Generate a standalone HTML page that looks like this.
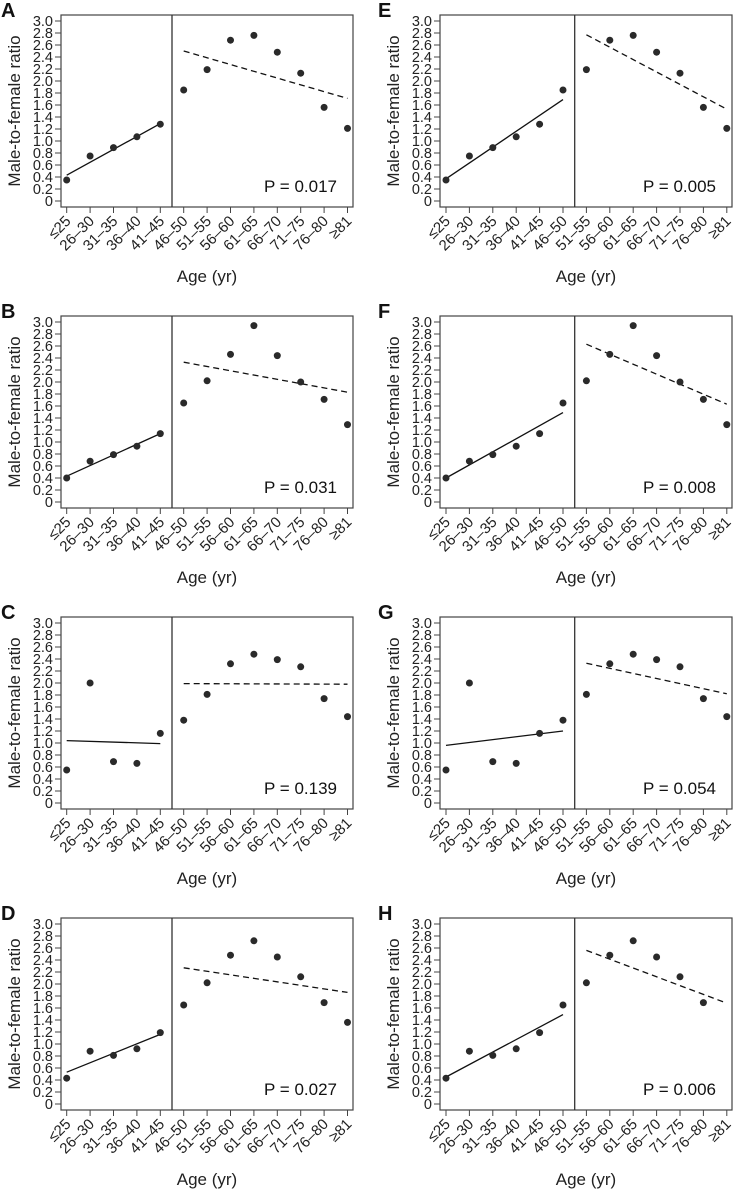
<!DOCTYPE html>
<html><head><meta charset="utf-8"><style>
html,body{margin:0;padding:0;background:#fff;}
svg{display:block;font-family:"Liberation Sans",Arial,sans-serif;}
</style></head><body>
<svg id="fig" width="735" height="1189" viewBox="0 0 735 1189"></svg>
<script>
const categories = ["≤25","26–30","31–35","36–40","41–45","46–50","51–55","56–60","61–65","66–70","71–75","76–80","≥81"];
const yTicks = [0,0.2,0.4,0.6,0.8,1.0,1.2,1.4,1.6,1.8,2.0,2.2,2.4,2.6,2.8,3.0];
const yTickLabels = ["0","0.2","0.4","0.6","0.8","1.0","1.2","1.4","1.6","1.8","2.0","2.2","2.4","2.6","2.8","3.0"];
const panelLetters = ["A","B","C","D","E","F","G","H"];
const pValues = ["P = 0.017","P = 0.031","P = 0.139","P = 0.027","P = 0.005","P = 0.008","P = 0.054","P = 0.006"];
const seriesA = [0.35,0.75,0.89,1.07,1.28,1.85,2.19,2.68,2.76,2.48,2.13,1.56,1.21];
const seriesB = [0.40,0.68,0.79,0.93,1.14,1.65,2.02,2.46,2.94,2.44,2.00,1.71,1.29];
const seriesC = [0.55,2.00,0.69,0.66,1.16,1.38,1.81,2.32,2.48,2.39,2.27,1.74,1.44];
const seriesD = [0.43,0.88,0.81,0.92,1.19,1.65,2.02,2.48,2.72,2.45,2.12,1.69,1.36];
const seriesH = [0.43,0.88,0.81,0.92,1.19,1.65,2.02,2.48,2.72,2.45,2.12,1.69,null];
const splitLeft = [5,5,5,5,6,6,6,6];
const fitA = [0.43,1.29,2.50,1.71];
const fitB = [0.43,1.14,2.33,1.83];
const fitC = [1.04,0.99,1.99,1.98];
const fitD = [0.53,1.16,2.27,1.86];
const fitE = [0.37,1.69,2.77,1.53];
const fitF = [0.40,1.49,2.63,1.63];
const fitG = [0.96,1.20,2.33,1.82];
const fitH = [0.45,1.49,2.56,1.68];

const panelSeries = [seriesA,seriesB,seriesC,seriesD,seriesA,seriesB,seriesC,seriesH];
const panelFits = [fitA,fitB,fitC,fitD,fitE,fitF,fitG,fitH];

const NS="http://www.w3.org/2000/svg";
const svg=document.getElementById('fig');
function mk(tag,attrs,parent){const e=document.createElementNS(NS,tag);for(const k in attrs)e.setAttribute(k,attrs[k]);(parent||svg).appendChild(e);return e;}

const rowOff=[0,301,602,903];
for(let p=0;p<8;p++){
  const col=p<4?0:1, row=p%4;
  const oy=rowOff[row];
  const bl=col?440:61, br=col?732:353;
  const cx0=col?446:66.7, step=23.4;
  const xs=i=>cx0+i*step;
  const ys=v=>oy+201-v*60;
  const g=mk('g',{});
  
  
  const lt=mk('text',{x:col?378:1,y:oy+17,'font-size':20,'font-weight':'bold',fill:'#111'},g);
  lt.textContent=panelLetters[p];
  
  
  const box=mk('rect',{x:bl,y:oy+15,width:br-bl,height:192,fill:'none',stroke:'#444','stroke-width':1.2},g);
  
  
  const n=splitLeft[p];
  const dx=(xs(n-1)+xs(n))/2;
  const dv=mk('line',{x1:dx,x2:dx,y1:oy+15,y2:oy+207,stroke:'#333','stroke-width':1.3},g);
  
  
  yTicks.forEach((t,i)=>{
    const y=ys(t);
    const tk=mk('line',{x1:bl-6,x2:bl,y1:y,y2:y,stroke:'#444','stroke-width':1},g);
    
    
    const tl=mk('text',{x:bl-8,y:y+5,'font-size':14.5,'text-anchor':'end',fill:'#222'},g);
    tl.textContent=yTickLabels[i];
    
    
  });
  const yt=mk('text',{x:0,y:0,'font-size':17,'text-anchor':'middle',fill:'#222',transform:`translate(${col?399:20},${oy+111}) rotate(-90)`},g);
  yt.textContent='Male-to-female ratio';
  
  
  categories.forEach((c,i)=>{
    const x=xs(i);
    const tk=mk('line',{x1:x,x2:x,y1:oy+207,y2:oy+213,stroke:'#444','stroke-width':1},g);
    
    
    const tl=mk('text',{x:0,y:0,'font-size':15,'text-anchor':'end',fill:'#222',transform:`translate(${x+5},${oy+222}) rotate(-45)`},g);
    tl.textContent=c;
    
    
  });
  const xt=mk('text',{x:(bl+br)/2,y:oy+282,'font-size':17,'text-anchor':'middle',fill:'#222'},g);
  xt.textContent='Age (yr)';
  
  
  const f=panelFits[p];
  const l1=mk('line',{x1:xs(0),y1:ys(f[0]),x2:xs(n-1),y2:ys(f[1]),stroke:'#111','stroke-width':1.3},g);
  
  
  const l2=mk('line',{x1:xs(n),y1:ys(f[2]),x2:xs(12),y2:ys(f[3]),stroke:'#111','stroke-width':1.3,'stroke-dasharray':'6,4'},g);
  
  
  panelSeries[p].forEach((v,i)=>{
    if(v==null)return;
    const c=mk('circle',{cx:xs(i),cy:ys(v),r:3.5,fill:'#2a2a2a'},g);
    
    
  });
  const pt=mk('text',{x:br-16,y:oy+192,'font-size':17,'text-anchor':'end',fill:'#111'},g);
  pt.textContent=pValues[p];
  
  
}
</script>
</body></html>
